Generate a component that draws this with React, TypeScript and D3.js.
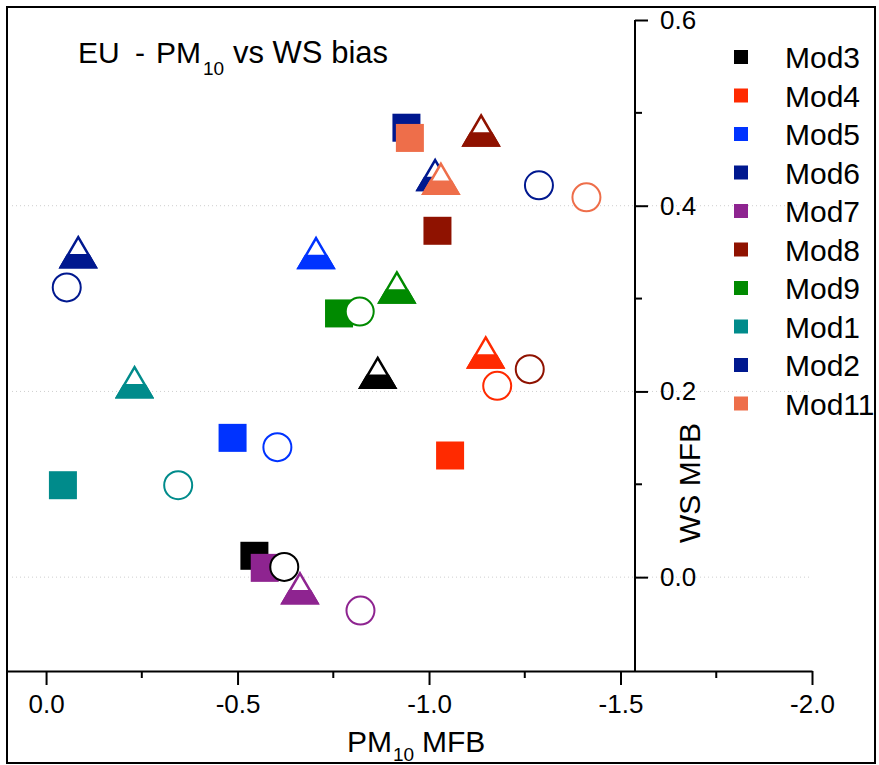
import React, { useRef, useEffect } from 'react';
import * as d3 from 'd3';

// model names and colours (legend order)
const models = ['Mod3', 'Mod4', 'Mod5', 'Mod6', 'Mod7', 'Mod8', 'Mod9', 'Mod1', 'Mod2', 'Mod11'];
const colors = ['#000000', '#ff2a00', '#0033ff', '#00188f', '#8e2490', '#8f1200', '#008a00', '#008b8b', '#00188f', '#ee6e4a'];

// filled squares
const squarePM = [-0.544, -1.055, -0.487, -0.941, -0.571, -1.022, -0.765, -0.044, null, -0.95];
const squareWS = [0.023, 0.131, 0.15, 0.484, 0.01, 0.373, 0.284, 0.099, null, 0.473];
// half-filled triangles
const trianglePM = [-0.866, -1.148, -0.705, -1.016, -0.663, -1.136, -0.916, -0.231, -0.084, -1.031];
const triangleWS = [0.22, 0.242, 0.349, 0.433, -0.012, 0.481, 0.312, 0.21, 0.35, 0.429];
// open circles
const circlePM = [-0.622, -1.178, -0.604, -1.287, -0.821, -1.263, -0.819, -0.345, -0.054, -1.411];
const circleWS = [0.011, 0.206, 0.14, 0.422, -0.036, 0.224, 0.286, 0.099, 0.312, 0.409];

const xMajor = [0, -0.5, -1.0, -1.5, -2.0];
const xMinor = [-0.25, -0.75, -1.25, -1.75];
const yMajor = [0.0, 0.2, 0.4, 0.6];
const yMinor = [0.1, 0.3, 0.5];
const gridValues = [0.0, 0.2, 0.4];

const FONT = '"Liberation Sans", Arial, sans-serif';

const App: React.FC = () => {
  const ref = useRef<SVGSVGElement | null>(null);

  useEffect(() => {
    if (!ref.current) return;
    const svg = d3.select(ref.current);
    svg.selectAll('*').remove();

    const x = d3.scaleLinear().domain([0.102, -2.0]).range([7, 812]);
    const y = d3.scaleLinear().domain([-0.1, 0.6]).range([670, 20]);
    const yAxisX = 635;
    const xAxisY = 671;

    // frame
    svg
      .append('rect')
      .attr('x', 7)
      .attr('y', 7)
      .attr('width', 868)
      .attr('height', 756)
      .attr('fill', 'white')
      .attr('stroke', '#000')
      .attr('stroke-width', 2);

    // dotted grid
    svg
      .append('g')
      .selectAll('line')
      .data(gridValues)
      .join('line')
      .attr('x1', 12)
      .attr('x2', x(-2.0))
      .attr('y1', (d) => y(d))
      .attr('y2', (d) => y(d))
      .attr('stroke', '#cfcfcf')
      .attr('stroke-width', 1)
      .attr('stroke-dasharray', '1,3');

    // x axis
    const gx = svg
      .append('g')
      .attr('transform', `translate(0,${xAxisY})`)
      .call(
        d3
          .axisBottom(x)
          .tickValues(xMajor)
          .tickSize(14)
          .tickSizeOuter(0)
          .tickPadding(10)
          .tickFormat((d) => d3.format('.1f')(d as number).replace('−', '-'))
      );
    gx.select('.domain').attr('stroke-width', 2);
    gx.selectAll('.tick line').attr('stroke-width', 2);
    gx.selectAll('.tick text')
      .attr('font-family', FONT)
      .attr('font-size', 26)
      .attr('fill', '#000');
    svg
      .append('g')
      .selectAll('line')
      .data(xMinor)
      .join('line')
      .attr('x1', (d) => x(d))
      .attr('x2', (d) => x(d))
      .attr('y1', xAxisY)
      .attr('y2', xAxisY + 7)
      .attr('stroke', '#000')
      .attr('stroke-width', 2);

    // y axis
    const gy = svg
      .append('g')
      .attr('transform', `translate(${yAxisX},0)`)
      .call(
        d3
          .axisRight(y)
          .tickValues(yMajor)
          .tickSize(13)
          .tickSizeOuter(0)
          .tickPadding(12)
          .tickFormat((d) => d3.format('.1f')(d as number))
      );
    gy.select('.domain').attr('stroke-width', 2).attr('d', `M0,${y(0.6)}V${xAxisY}`);
    gy.selectAll('.tick line').attr('stroke-width', 2);
    gy.selectAll('.tick text')
      .attr('font-family', FONT)
      .attr('font-size', 26)
      .attr('fill', '#000');
    svg
      .append('g')
      .selectAll('line')
      .data(yMinor)
      .join('line')
      .attr('x1', yAxisX)
      .attr('x2', yAxisX + 7)
      .attr('y1', (d) => y(d))
      .attr('y2', (d) => y(d))
      .attr('stroke', '#000')
      .attr('stroke-width', 2);

    // markers
    const idx = models.map((_, i) => i);
    const sq = 28;
    svg
      .append('g')
      .selectAll('rect')
      .data(idx.filter((i) => squarePM[i] !== null))
      .join('rect')
      .attr('x', (i) => x(squarePM[i] as number) - sq / 2)
      .attr('y', (i) => y(squareWS[i] as number) - sq / 2)
      .attr('width', sq)
      .attr('height', sq)
      .attr('fill', (i) => colors[i]);

    const tw = 35;
    const th = 30;
    const frac = 0.6;
    const triG = svg.append('g');
    idx.forEach((i) => {
      const cx = x(trianglePM[i]);
      const cy = y(triangleWS[i]);
      const top = cy - th / 2;
      const bot = cy + th / 2;
      const cut = top + th * frac;
      const half = (tw / 2) * frac;
      triG
        .append('path')
        .attr('d', `M${cx},${top}L${cx + tw / 2},${bot}L${cx - tw / 2},${bot}Z`)
        .attr('fill', 'white')
        .attr('stroke', colors[i])
        .attr('stroke-width', 2.5);
      triG
        .append('path')
        .attr('d', `M${cx - half},${cut}L${cx + half},${cut}L${cx + tw / 2},${bot}L${cx - tw / 2},${bot}Z`)
        .attr('fill', colors[i])
        .attr('stroke', colors[i])
        .attr('stroke-width', 2.5);
    });

    svg
      .append('g')
      .selectAll('circle')
      .data(idx)
      .join('circle')
      .attr('cx', (i) => x(circlePM[i]))
      .attr('cy', (i) => y(circleWS[i]))
      .attr('r', 14)
      .attr('fill', 'white')
      .attr('stroke', (i) => colors[i])
      .attr('stroke-width', 2);

    // legend
    const lg = svg.append('g');
    models.forEach((m, i) => {
      const cy = 57 + i * 38.5;
      lg.append('rect')
        .attr('x', 734)
        .attr('y', cy - 7)
        .attr('width', 14)
        .attr('height', 14)
        .attr('fill', colors[i]);
      lg.append('text')
        .attr('x', 785)
        .attr('y', cy + 11)
        .attr('font-family', FONT)
        .attr('font-size', 30)
        .text(m);
    });

    // title
    const title = svg
      .append('text')
      .attr('y', 63)
      .attr('font-family', FONT)
      .attr('font-size', 30);
    title.append('tspan').attr('x', 78).text('EU');
    title.append('tspan').attr('x', 135).text('-');
    title.append('tspan').attr('x', 156).text('PM');
    title.append('tspan').attr('x', 203).attr('font-size', 19).attr('dy', 12).text('10');
    title.append('tspan').attr('x', 233).attr('dy', -12).attr('font-size', 31).text('vs WS bias');

    // axis titles
    const xt = svg
      .append('text')
      .attr('y', 752)
      .attr('font-family', FONT)
      .attr('font-size', 30);
    xt.append('tspan').attr('x', 347).text('PM');
    xt.append('tspan').attr('x', 393).attr('font-size', 19).attr('dy', 9).text('10');
    xt.append('tspan').attr('x', 422).attr('dy', -9).text('MFB');

    svg
      .append('text')
      .attr('transform', `translate(700,483) rotate(-90)`)
      .attr('text-anchor', 'middle')
      .attr('font-family', FONT)
      .attr('font-size', 30)
      .text('WS MFB');
  }, []);

  return (
    <svg
      ref={ref}
      width={879}
      height={765}
      style={{ position: 'absolute', left: 0, top: 0, background: 'white' }}
    />
  );
};

export default App;
